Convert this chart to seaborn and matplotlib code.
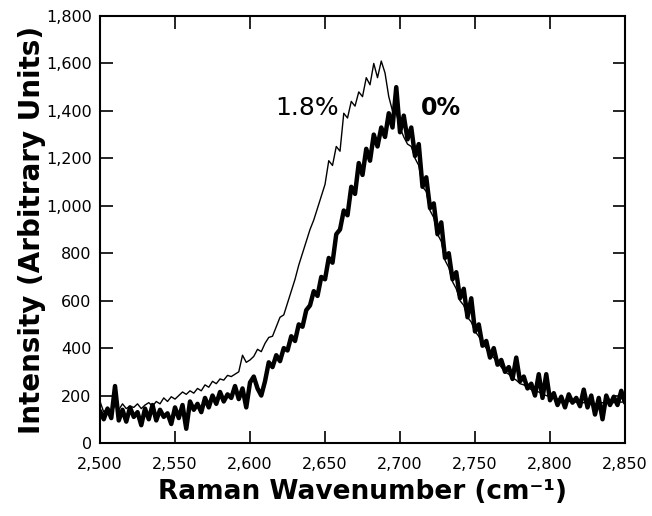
import numpy as np
import pandas as pd
import seaborn as sns
import matplotlib
matplotlib.use("Agg")
import matplotlib.pyplot as plt

# Raman wavenumber grid (cm^-1), 2.5 cm^-1 spacing
wavenumber = np.arange(2500.0, 2850.0 + 0.1, 2.5)

# 0% strain spectrum (thick trace)
int_0 = [
    135, 100, 145, 105, 240, 95, 140, 90, 150, 110, 130, 75, 145, 100, 160, 95, 140, 110, 125, 80, 150,
    105, 160, 60, 175, 140, 165, 130, 190, 150, 200, 165, 215, 175, 205, 190, 240, 185, 230, 150, 255,
    280, 230, 200, 260, 340, 320, 370, 345, 400, 390, 450, 430, 500, 490, 560, 580, 640, 620, 700, 690,
    780, 760, 880, 900, 980, 960, 1080, 1050, 1180, 1130, 1240, 1190, 1300, 1250, 1330, 1290, 1390, 1330, 1500, 1310,
    1380, 1280, 1330, 1210, 1260, 1080, 1120, 990, 1010, 880, 930, 780, 800, 690, 720, 610, 650, 530, 610, 470,
    500, 410, 430, 360, 400, 330, 350, 300, 320, 270, 360, 260, 280, 230, 250, 200, 290, 190, 290, 180,
    210, 160, 195, 150, 205, 170, 190, 155, 225, 150, 200, 120, 190, 100, 200, 160, 195, 160, 220, 170,
]

# 1.8% strain spectrum (thin trace)
int_18 = [
    175, 130, 150, 125, 160, 140, 165, 145, 155, 150, 165, 145, 160, 170, 155, 175, 165, 190, 175, 195, 185,
    200, 215, 205, 220, 210, 230, 220, 245, 235, 260, 250, 270, 265, 285, 280, 290, 300, 370, 340, 350,
    365, 395, 385, 420, 445, 450, 490, 530, 540, 590, 640, 690, 750, 800, 850, 900, 940, 990, 1040, 1090,
    1190, 1170, 1250, 1230, 1390, 1370, 1440, 1420, 1480, 1460, 1540, 1510, 1600, 1540, 1610, 1560, 1460, 1400, 1390, 1330,
    1290, 1260, 1250, 1200, 1170, 1080, 1060, 980, 950, 880, 850, 770, 740, 680, 650, 600, 580, 530, 510, 470,
    450, 420, 400, 370, 360, 340, 320, 300, 290, 275, 265, 250, 245, 235, 225, 220, 215, 205, 200, 195,
    190, 185, 180, 178, 175, 175, 172, 170, 170, 168, 170, 165, 168, 170, 168, 172, 170, 175, 172, 175,
]

x_ticks = [2500, 2550, 2600, 2650, 2700, 2750, 2800, 2850]
x_tick_labels = ["2,500", "2,550", "2,600", "2,650", "2,700", "2,750", "2,800", "2,850"]
y_ticks = [0, 200, 400, 600, 800, 1000, 1200, 1400, 1600, 1800]
y_tick_labels = ["0", "200", "400", "600", "800", "1,000", "1,200", "1,400", "1,600", "1,800"]

df = pd.DataFrame({
    "wavenumber": np.concatenate([wavenumber, wavenumber]),
    "intensity": np.concatenate([int_0, int_18]),
    "strain": ["0%"] * len(wavenumber) + ["1.8%"] * len(wavenumber),
})

sns.set_style("ticks")
plt.rcParams["font.family"] = ["DejaVu Sans"]
plt.rcParams["text.color"] = "black"
plt.rcParams["axes.labelcolor"] = "black"

fig = plt.figure(figsize=(6.52, 5.16), dpi=100)
ax = fig.add_axes([0.1534, 0.1415, 0.8052, 0.8275])

sns.lineplot(data=df[df.strain == "1.8%"], x="wavenumber", y="intensity",
             color="black", linewidth=1.0, ax=ax, legend=False)
sns.lineplot(data=df[df.strain == "0%"], x="wavenumber", y="intensity",
             color="black", linewidth=3.2, ax=ax, legend=False)

ax.set_xlim(2500, 2850)
ax.set_ylim(0, 1800)
ax.set_xticks(x_ticks)
ax.set_xticklabels(x_tick_labels)
ax.set_yticks(y_ticks)
ax.set_yticklabels(y_tick_labels)
ax.tick_params(axis="both", which="both", direction="in", length=9, width=1.2,
               top=True, right=True, labelsize=11.5, colors="black")
ax.tick_params(axis="x", pad=10)
ax.tick_params(axis="y", pad=6)
for s in ax.spines.values():
    s.set_linewidth(1.5)
    s.set_color("black")

ax.set_xlabel("Raman Wavenumber (cm\u207b\u00b9)", fontsize=19, fontweight="bold",
              labelpad=5, color="black")
ax.set_ylabel("Intensity (Arbitrary Units)", fontsize=20, fontweight="bold",
              labelpad=0, color="black")

ax.text(2638, 1412, "1.8%", fontsize=18, ha="center", va="center", color="black")
ax.text(2727, 1412, "0%", fontsize=17, fontweight="bold", ha="center", va="center", color="black")

fig.savefig("out.png", dpi=100)
